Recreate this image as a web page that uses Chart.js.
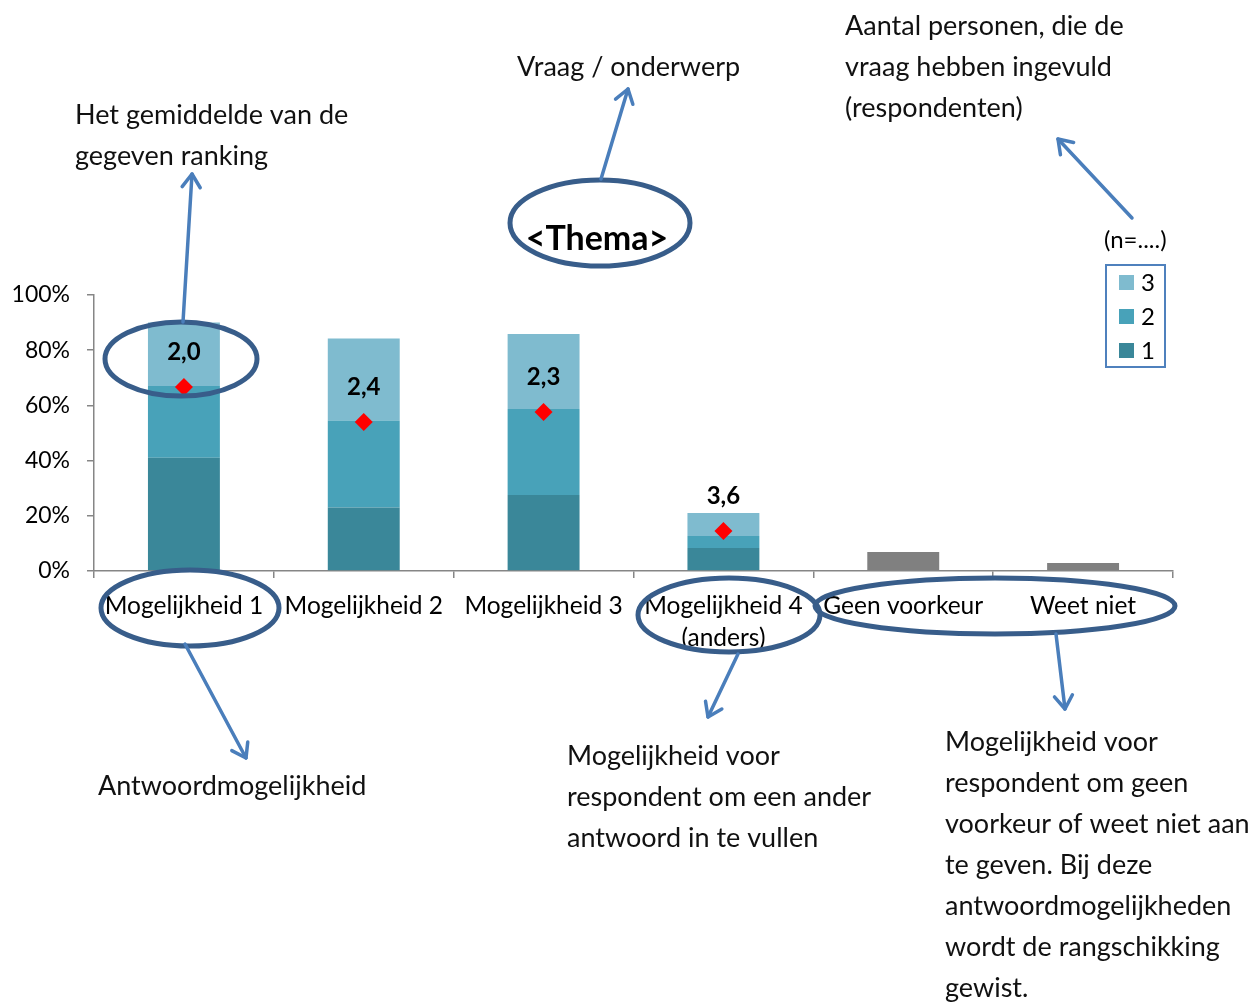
<!DOCTYPE html>
<html><head><meta charset="utf-8">
<script src="https://cdn.jsdelivr.net/npm/chart.js@4"></script>
<style>html,body{margin:0;padding:0;background:#fff;overflow:hidden}canvas{display:block}</style>
</head><body>
<canvas id="c" width="1258" height="1003"></canvas>
<script>
// ---- data ----
const categories = ['Mogelijkheid 1', 'Mogelijkheid 2', 'Mogelijkheid 3', ['Mogelijkheid 4', '(anders)'], 'Geen voorkeur', 'Weet niet'];
const rank1 = [41, 23, 27.5, 8.3, null, null];
const rank2 = [26, 31.5, 31.2, 4.4, null, null];
const rank3 = [23, 29.7, 27.2, 8.3, null, null];
const noRanking = [null, null, null, null, 6.9, 2.9];
const averagePos = [66.7, 54, 57.6, 14.5, null, null];
const averageLabels = ['2,0', '2,4', '2,3', '3,6', null, null];
const yTicks = [0, 20, 40, 60, 80, 100];
const legendTitle = '(n=....)';

const FONT = 'Lato';
const C1 = '#3A8799', C2 = '#48A2B9', C3 = '#7FBBCF', GREY = '#808080';
const ELL = '#385D8A', ARR = '#4A7EBB';

const annot = {
  id: 'annot',
  afterDatasetsDraw(chart) {
    const ctx = chart.ctx;
    const idx = chart.data.datasets.findIndex(d => d.type === 'line');
    const meta = chart.getDatasetMeta(idx);
    ctx.save();
    ctx.font = 'bold 24px ' + FONT;
    ctx.fillStyle = '#000';
    ctx.textAlign = 'center';
    ctx.textBaseline = 'middle';
    meta.data.forEach((pt, i) => {
      if (averageLabels[i] == null) return;
      ctx.fillText(averageLabels[i], pt.x, pt.y - 35);
    });
    ctx.restore();
  },
  afterDraw(chart) {
    const ctx = chart.ctx;
    ctx.save();
    // legend
    ctx.strokeStyle = '#4F81BD'; ctx.lineWidth = 2;
    ctx.strokeRect(1106, 265, 59, 102);
    const ds = chart.data.datasets.slice(0, 3).reverse();
    ctx.font = '24px ' + FONT; ctx.textBaseline = 'middle'; ctx.textAlign = 'left';
    ds.forEach((d, i) => {
      const y = 282 + i * 34;
      ctx.fillStyle = d.backgroundColor;
      ctx.fillRect(1119, y - 7, 15, 15);
      ctx.fillStyle = '#000';
      ctx.fillText(d.label, 1141, y + 1);
    });
    ctx.font = '24px ' + FONT;
    ctx.fillText(legendTitle, 1104, 240);

    // texts
    ctx.font = '27px ' + FONT; ctx.fillStyle = '#111';
    const txt = (lines, x, y) => lines.forEach((l, i) => ctx.fillText(l, x, y + i * 41));
    txt(['Het gemiddelde van de', 'gegeven ranking'], 75, 115);
    txt(['Vraag / onderwerp'], 517, 67);
    txt(['Aantal personen, die de', 'vraag hebben ingevuld', '(respondenten)'], 845, 26);
    txt(['Antwoordmogelijkheid'], 98, 786);
    txt(['Mogelijkheid voor', 'respondent om een ander', 'antwoord in te vullen'], 567, 756);
    txt(['Mogelijkheid voor', 'respondent om geen', 'voorkeur of weet niet aan', 'te geven. Bij deze', 'antwoordmogelijkheden', 'wordt de rangschikking', 'gewist.'], 945, 742);
    ctx.font = 'bold 34px ' + FONT; ctx.textAlign = 'center'; ctx.fillStyle = '#000';
    ctx.fillText('<Thema>', 597, 239);

    // ellipses
    ctx.strokeStyle = ELL; ctx.lineWidth = 5;
    const ell = (x, y, rx, ry) => { ctx.beginPath(); ctx.ellipse(x, y, rx, ry, 0, 0, Math.PI * 2); ctx.stroke(); };
    ell(181, 359, 76, 37);
    ell(600, 223, 90, 43);
    ell(190, 608, 89, 38);
    ell(729, 615, 91, 37);
    ell(995, 606, 180, 28);

    // arrows
    ctx.strokeStyle = ARR; ctx.lineWidth = 3.5; ctx.lineCap = 'round'; ctx.lineJoin = 'round';
    const arrow = (x1, y1, x2, y2) => {
      ctx.beginPath(); ctx.moveTo(x1, y1); ctx.lineTo(x2, y2); ctx.stroke();
      const a = Math.atan2(y2 - y1, x2 - x1), L = 16, s = 0.6;
      ctx.beginPath();
      ctx.moveTo(x2 - L * Math.cos(a - s), y2 - L * Math.sin(a - s));
      ctx.lineTo(x2, y2);
      ctx.lineTo(x2 - L * Math.cos(a + s), y2 - L * Math.sin(a + s));
      ctx.stroke();
    };
    arrow(183, 322, 192, 174);
    arrow(601, 179, 628, 89);
    arrow(1132, 218, 1058, 139);
    arrow(185, 644, 246, 758);
    arrow(738, 654, 708, 717);
    arrow(1056, 634, 1065, 709);
    ctx.restore();
  }
};

new Chart(document.getElementById('c'), {
  data: {
    labels: categories,
    datasets: [
      { type: 'bar', label: '1', data: rank1, backgroundColor: C1, stack: 'r' },
      { type: 'bar', label: '2', data: rank2, backgroundColor: C2, stack: 'r' },
      { type: 'bar', label: '3', data: rank3, backgroundColor: C3, stack: 'r' },
      { type: 'bar', label: 'Geen/Weet niet', data: noRanking, backgroundColor: GREY, stack: 'r' },
      { type: 'line', label: 'Gemiddelde', data: averagePos, stack: 'avg', showLine: false, order: -1,
        pointStyle: 'rectRot', pointRadius: 9, pointBackgroundColor: '#FF0000', pointBorderWidth: 0, borderColor: '#FF0000' }
    ]
  },
  options: {
    responsive: false,
    animation: false,
    datasets: { bar: { barPercentage: 0.4, categoryPercentage: 1.0 } },
    layout: { padding: { left: 0, top: 295, right: 85, bottom: 0 } },
    plugins: { legend: { display: false }, tooltip: { enabled: false } },
    scales: {
      x: {
        stacked: true,
        grid: { drawOnChartArea: false, offset: true, tickLength: 7, color: '#868686', lineWidth: 1.5 },
        border: { color: '#868686', width: 1.5 },
        ticks: { color: '#000', font: { family: FONT, size: 24.5, lineHeight: 1.3 }, padding: 12, maxRotation: 0, autoSkip: false },
        afterFit: s => { s.height = 1003 - 571; }
      },
      y: {
        stacked: true, min: 0, max: 100,
        afterBuildTicks: s => { s.ticks = yTicks.map(v => ({ value: v })); },
        grid: { drawOnChartArea: false, tickLength: 7, color: '#868686', lineWidth: 1.5 },
        border: { color: '#868686', width: 1.5 },
        ticks: { color: '#000', font: { family: FONT, size: 23 }, padding: 17, callback: v => v + '%' },
        afterFit: s => { s.width = 94; }
      }
    }
  },
  plugins: [annot]
});
</script>
</body></html>
